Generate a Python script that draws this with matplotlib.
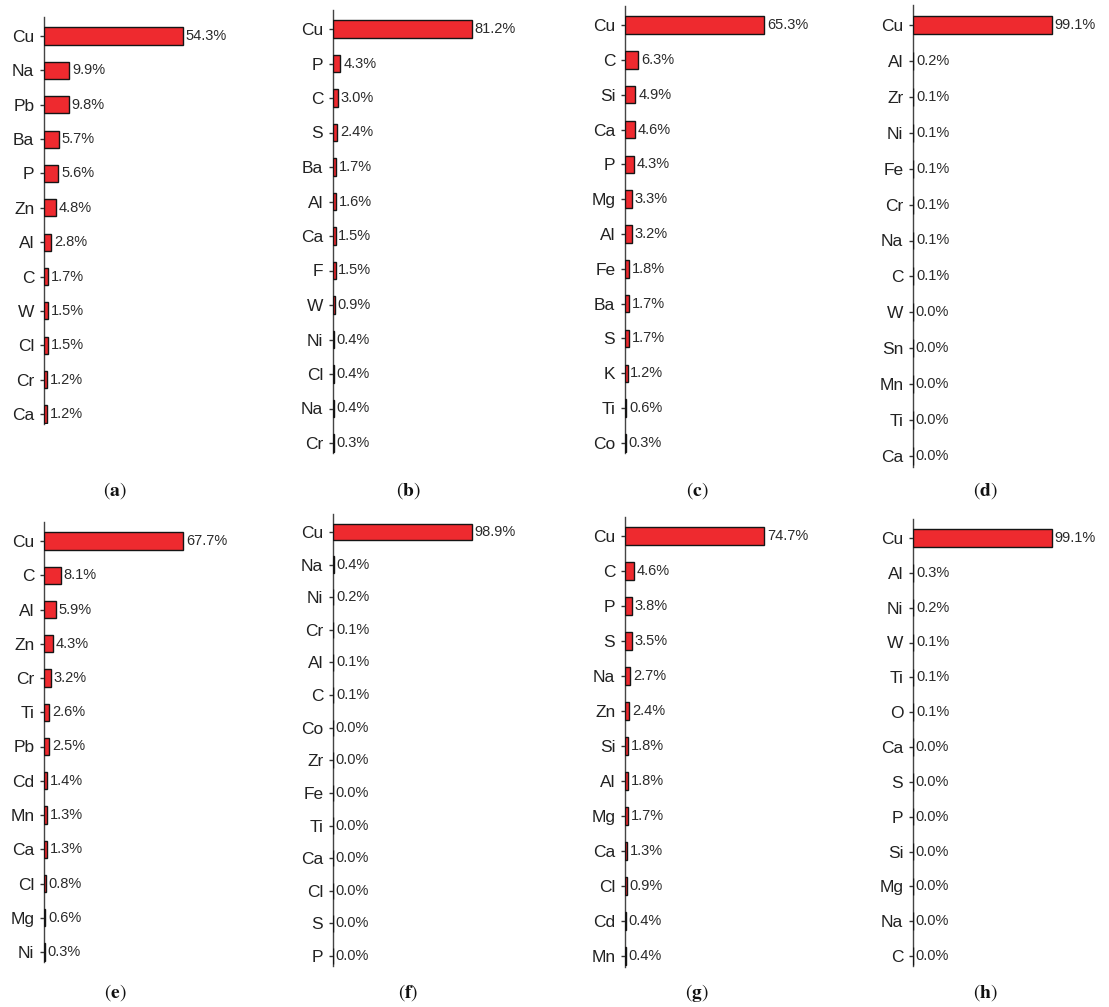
import matplotlib
matplotlib.use("Agg")
import matplotlib.pyplot as plt

plt.rcParams["font.family"] = ["Liberation Sans", "DejaVu Sans"]
plt.rcParams["mathtext.fontset"] = "stix"

# element composition per sample (wt %)
elements_a = ["Cu", "Na", "Pb", "Ba", "P", "Zn", "Al", "C", "W", "Cl", "Cr", "Ca"]
values_a = [54.3, 9.9, 9.8, 5.7, 5.6, 4.8, 2.8, 1.7, 1.5, 1.5, 1.2, 1.2]

elements_b = ["Cu", "P", "C", "S", "Ba", "Al", "Ca", "F", "W", "Ni", "Cl", "Na", "Cr"]
values_b = [81.2, 4.3, 3.0, 2.4, 1.7, 1.6, 1.5, 1.5, 0.9, 0.4, 0.4, 0.4, 0.3]

elements_c = ["Cu", "C", "Si", "Ca", "P", "Mg", "Al", "Fe", "Ba", "S", "K", "Ti", "Co"]
values_c = [65.3, 6.3, 4.9, 4.6, 4.3, 3.3, 3.2, 1.8, 1.7, 1.7, 1.2, 0.6, 0.3]

elements_d = ["Cu", "Al", "Zr", "Ni", "Fe", "Cr", "Na", "C", "W", "Sn", "Mn", "Ti", "Ca"]
values_d = [99.1, 0.2, 0.1, 0.1, 0.1, 0.1, 0.1, 0.1, 0.0, 0.0, 0.0, 0.0, 0.0]

elements_e = ["Cu", "C", "Al", "Zn", "Cr", "Ti", "Pb", "Cd", "Mn", "Ca", "Cl", "Mg", "Ni"]
values_e = [67.7, 8.1, 5.9, 4.3, 3.2, 2.6, 2.5, 1.4, 1.3, 1.3, 0.8, 0.6, 0.3]

elements_f = ["Cu", "Na", "Ni", "Cr", "Al", "C", "Co", "Zr", "Fe", "Ti", "Ca", "Cl", "S", "P"]
values_f = [98.9, 0.4, 0.2, 0.1, 0.1, 0.1, 0.0, 0.0, 0.0, 0.0, 0.0, 0.0, 0.0, 0.0]

elements_g = ["Cu", "C", "P", "S", "Na", "Zn", "Si", "Al", "Mg", "Ca", "Cl", "Cd", "Mn"]
values_g = [74.7, 4.6, 3.8, 3.5, 2.7, 2.4, 1.8, 1.8, 1.7, 1.3, 0.9, 0.4, 0.4]

elements_h = ["Cu", "Al", "Ni", "W", "Ti", "O", "Ca", "S", "P", "Si", "Mg", "Na", "C"]
values_h = [99.1, 0.3, 0.2, 0.1, 0.1, 0.1, 0.0, 0.0, 0.0, 0.0, 0.0, 0.0, 0.0]

panel_letters = ["a", "b", "c", "d", "e", "f", "g", "h"]
panel_elements = [elements_a, elements_b, elements_c, elements_d,
                  elements_e, elements_f, elements_g, elements_h]
panel_values = [values_a, values_b, values_c, values_d,
                values_e, values_f, values_g, values_h]

# layout in pixels: spine x, centre of first row, centre of last row
W, H = 1109, 1007
spine_x = [44, 333, 625, 913, 44, 333, 625, 913]
first_y = [36, 29, 25, 25, 541, 532, 536, 538]
last_y = [414, 443, 443, 456, 952, 956, 956, 956]
caption_x = [115, 408, 697, 985, 115, 408, 697, 985]
caption_y = [491, 491, 491, 491, 993, 993, 993, 993]
max_bar_px = 139
axes_w_px = 200

fig = plt.figure(figsize=(W / 100, H / 100), dpi=100)

for i, letter in enumerate(panel_letters):
    names = panel_elements[i]
    vals = panel_values[i]
    n = len(names)
    step = (last_y[i] - first_y[i]) / (n - 1)
    top_pad, bot_pad = 0.55, 0.3
    top_px = first_y[i] - top_pad * step
    bot_px = last_y[i] + bot_pad * step
    ax = fig.add_axes([spine_x[i] / W, 1 - bot_px / H,
                       axes_w_px / W, (bot_px - top_px) / H])
    xmax = max(vals) * axes_w_px / max_bar_px
    ypos = list(range(n))
    ax.barh(ypos, vals, height=0.5, color="#ee2a2f", edgecolor="#151515",
            linewidth=1.0, zorder=3)
    for y, v in zip(ypos, vals):
        ax.annotate(f"{v:.1f}%", (v, y), xytext=(2, 0), textcoords="offset points",
                    va="center", ha="left", fontsize=10.5, color="#2a2a2a",
                    annotation_clip=False)
    ax.set_xlim(0, xmax)
    ax.set_ylim(n - 1 + bot_pad, -top_pad)
    ax.set_yticks(ypos)
    ax.set_yticklabels(names, fontsize=12.5, color="#222222")
    ax.set_xticks([])
    ax.tick_params(axis="y", direction="out", length=3, width=1.0,
                   color="#333333", pad=4)
    for side in ("top", "right", "bottom"):
        ax.spines[side].set_visible(False)
    ax.spines["left"].set_color("#444444")
    ax.spines["left"].set_linewidth(1.0)
    ax.patch.set_alpha(0)

    fig.text(caption_x[i] / W, 1 - caption_y[i] / H,
             rf"$(\mathbf{{{letter}}})$", ha="center", va="center",
             fontsize=14, color="#111111")

fig.savefig("out.png", dpi=100, facecolor="white")
